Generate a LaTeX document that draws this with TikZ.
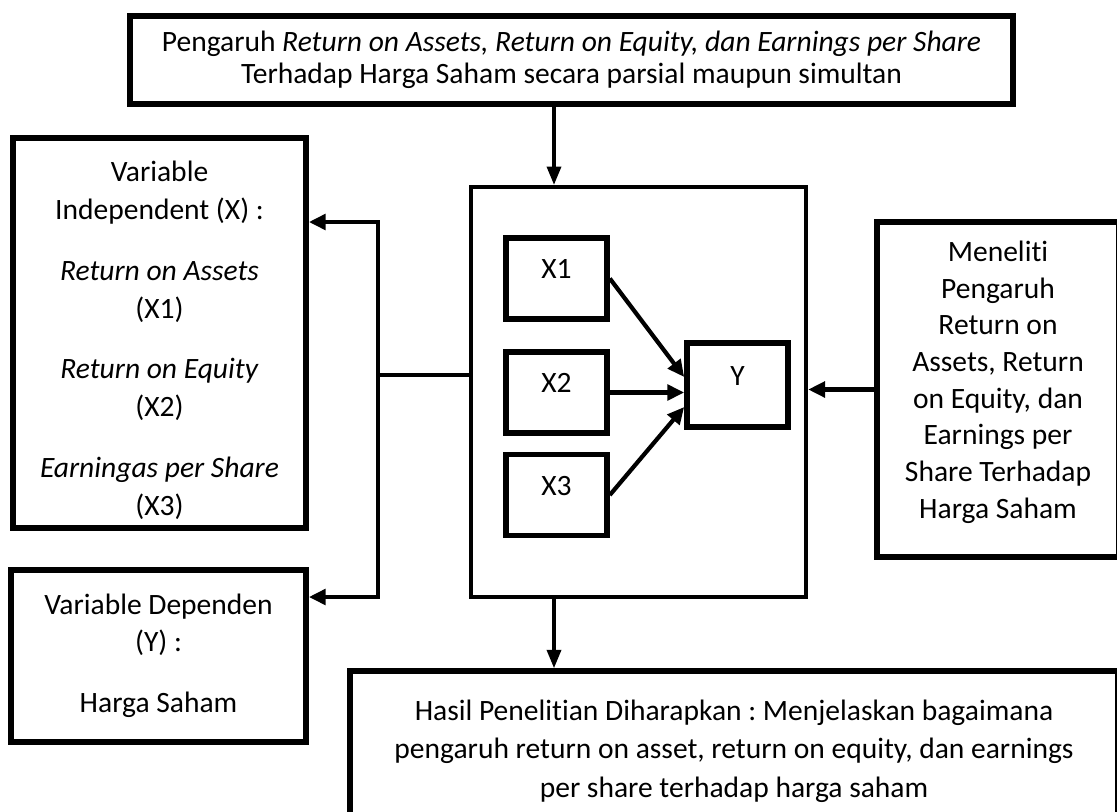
\documentclass[tikz,border=0pt]{standalone}
\usepackage{fontspec}
\setmainfont{Carlito}[Ligatures=NoCommon]
\usepackage{tikz}
\usetikzlibrary{arrows.meta,calc}
\frenchspacing

\begin{document}
\begin{tikzpicture}[x=0.025cm, y=-0.025cm, line join=miter,
	kotak/.style={draw, line width=4pt, align=center, inner sep=0pt, font=\fontsize{21}{26.5}\selectfont},
	kecil/.style={kotak, minimum width=2.525cm, minimum height=2.025cm, text height=6pt, text depth=6pt},
	panah/.style={line width=3pt, -{Triangle[length=12pt, width=11pt]}},
	panahtipis/.style={line width=2.3pt, -{Triangle[length=13pt, width=10pt]}}]

\clip (0,0) rectangle (1117,811);

\node (topik) at (571.5, 60) [kotak, minimum width=22.075cm, minimum height=2.2cm, font=\fontsize{21}{23}\selectfont]
	{Pengaruh \textit{Return on Assets, Return on Equity, dan Earnings per Share}\\ Terhadap Harga Saham secara parsial maupun simultan};

\node (kerangka) at (638.5, 392) [draw, line width=3pt, minimum width=8.375cm, minimum height=10.25cm] {};

\node (x1) at (556.5, 278.5) [kecil] {X1};
\node (x2) at (556.5, 392.5) [kecil] {X2};
\node (x3) at (556.5, 495) [kecil] {X3};
\node (y) at (737.5, 385) [kotak, minimum width=2.525cm, minimum height=2.1cm, text height=6pt, text depth=6pt] {Y};

\draw[panah] (x1.east) -- ($(y.west)+(0,-8)$);
\draw[panah] (x2.east) -- (x2.east -| y.west);
\draw[panah] (x3.east) -- ($(y.west)+(0,22)$);

\node (indep) at (159.5, 333) [kotak, minimum width=7.325cm, minimum height=9.75cm, font=\fontsize{21}{27}\selectfont]
	{\rule{0pt}{25pt}Variable\\ Independent (X) :\\[16pt] \textit{Return on Assets}\\ (X1)\\[16pt] \textit{Return on Equity}\\ (X2)\\[16pt] \textit{Earningas per Share}\\ (X3)};

\node (dep) at (158.5, 656) [kotak, minimum width=7.375cm, minimum height=4.3cm]
	{Variable Dependen\\ (Y) :\\[17pt] Harga Saham};

\node (teliti) at (998, 389.5) [kotak, minimum width=6.05cm, minimum height=8.375cm, font=\fontsize{21}{26.1}\selectfont]
	{Meneliti\\ Pengaruh\\ Return on\\ Assets, Return\\ on Equity, dan\\ Earnings per\\ Share Terhadap\\ Harga Saham\rule[-14pt]{0pt}{14pt}};

\node (hasil) at (734, 751) [kotak, minimum width=19.2cm, minimum height=4cm, font=\fontsize{21}{27.4}\selectfont]
	{Hasil Penelitian Diharapkan : Menjelaskan bagaimana\\ pengaruh return on asset, return on equity, dan earnings\\ per share terhadap harga saham};

% jalur ke variabel
\coordinate (cabang) at (378, 375);
\coordinate (atas) at (378, 222);
\coordinate (bawah) at (378, 597);
\coordinate (tengah) at (554, 0);

\draw[line width=3pt] (kerangka.west |- cabang) -- (cabang);
\draw[panah] (bawah) -- (atas) -- (atas -| indep.east);
\draw[panah] (atas) -- (bawah) -- (bawah -| dep.east);

\draw[panah] (teliti.west) -- (teliti.west -| kerangka.east);

\draw[panahtipis] (topik.south -| tengah) -- (kerangka.north -| tengah);
\draw[panahtipis] (kerangka.south -| tengah) -- (hasil.north -| tengah);

\end{tikzpicture}
\end{document}
